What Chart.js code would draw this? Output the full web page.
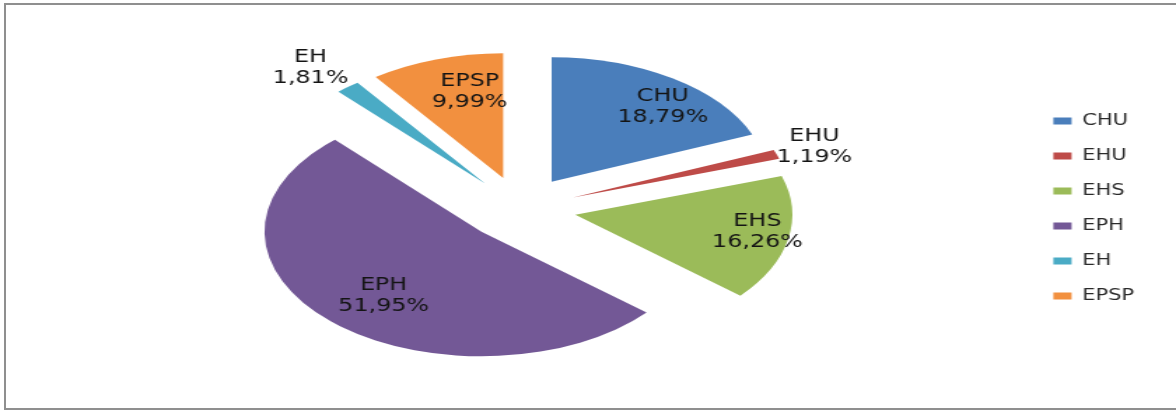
<!DOCTYPE html>
<html>
<head>
<meta charset="utf-8">
<script src="https://cdn.jsdelivr.net/npm/chart.js@4"></script>
<style>
html, body { margin: 0; padding: 0; background: #fff; overflow: hidden; }
#frame { position: absolute; left: 4px; top: 3px; width: 1172px; height: 407px; border: 2px solid #8f8f8f; border-right: none; box-sizing: border-box; }
#stretch { position: absolute; left: 0; top: 0; width: 840px; height: 411px; transform: scaleX(1.4); transform-origin: 0 0; }
</style>
</head>
<body>
<div id="frame"></div>
<div id="stretch"><canvas id="pieChart" width="840" height="411"></canvas></div>
<script>
const labels = ["CHU", "EHU", "EHS", "EPH", "EH", "EPSP"];
const shares = [18.79, 1.19, 16.26, 51.95, 1.81, 9.99];
const colors = ["#4a7ebb", "#be4b48", "#9bbb59", "#735896", "#4aabc5", "#f2903f"];

const tilt = 0.804;     // squash the pie into an ellipse (3D look of the original)
const explode = 40;     // every slice pulled out of the centre

function pieCentre(chart) {
  const a = chart.chartArea;
  return { cx: (a.left + a.right) / 2, cy: (a.top + a.bottom) / 2 };
}

const tiltedPie = {
  id: "tiltedPie",
  afterDatasetsUpdate(chart) {
    const { cx, cy } = pieCentre(chart);
    chart.getDatasetMeta(0).data.forEach(arc => {
      const mid = (arc.startAngle + arc.endAngle) / 2;
      arc.x = cx + Math.cos(mid) * explode;
      arc.y = cy + Math.sin(mid) * explode;
    });
  },
  beforeDatasetsDraw(chart) {
    const { cx, cy } = pieCentre(chart);
    const ctx = chart.ctx;
    ctx.save();
    ctx.translate(cx, cy);
    ctx.scale(1, tilt);
    ctx.translate(-cx, -cy);
  },
  afterDatasetsDraw(chart) {
    const ctx = chart.ctx;
    ctx.restore();

    // data labels: name + percentage, inside big slices, outside small ones
    const { cy } = pieCentre(chart);
    ctx.save();
    ctx.font = "17px 'DejaVu Sans'";
    ctx.fillStyle = "#141414";
    ctx.textAlign = "center";
    ctx.textBaseline = "middle";
    chart.getDatasetMeta(0).data.forEach((arc, i) => {
      const mid = (arc.startAngle + arc.endAngle) / 2;
      const outside = shares[i] < 3;
      const fx = outside ? 1.22 : 0.77;
      const fy = outside ? 1.22 : 0.72;
      const x = arc.x + Math.cos(mid) * arc.outerRadius * fx + (outside ? -5 : 13);
      const y = cy + (arc.y - cy + Math.sin(mid) * arc.outerRadius * fy) * tilt + (outside ? 2 : 0);
      const pct = shares[i].toFixed(2).replace(".", ",") + "%";
      ctx.fillText(labels[i], x, y - 10.5);
      ctx.fillText(pct, x, y + 10.5);
    });
    ctx.restore();
  }
};

new Chart(document.getElementById("pieChart"), {
  type: "pie",
  data: {
    labels: labels,
    datasets: [{
      data: shares,
      backgroundColor: colors,
      borderWidth: 0,
      radius: 155
    }]
  },
  options: {
    responsive: false,
    animation: false,
    events: [],
    layout: { padding: { left: 11, right: 20, top: 6, bottom: 0 } },
    plugins: {
      tooltip: { enabled: false },
      legend: {
        position: "right",
        labels: {
          boxWidth: 13,
          boxHeight: 7,
          padding: 20,
          color: "#2a2a2a",
          font: { family: "DejaVu Sans", size: 15 }
        }
      }
    }
  },
  plugins: [tiltedPie]
});
</script>
</body>
</html>
